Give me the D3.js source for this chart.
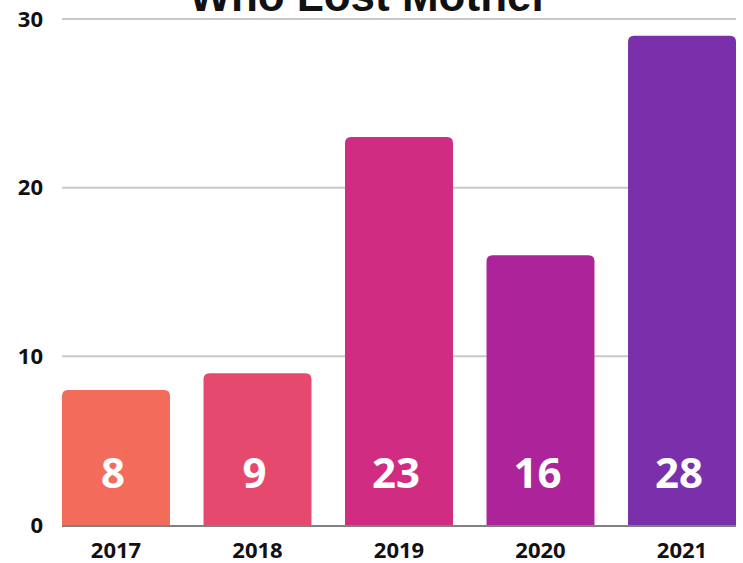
<!DOCTYPE html>
<html>
<head>
<meta charset="utf-8">
<script src="https://cdn.jsdelivr.net/npm/d3@7"></script>
<style>
  html, body { margin: 0; padding: 0; background: #fff; }
  svg { display: block; }
</style>
</head>
<body>
<div id="chart"></div>
<script>
(() => {

const years = ["2017", "2018", "2019", "2020", "2021"]
const heights = [8, 9, 23, 16, 29]       // bar height as drawn
const labels = ["8", "9", "23", "16", "28"] // number printed on the bar
const colors = ["#f26b5b", "#e6496e", "#d02d82", "#ad239a", "#7930aa"]
const yTicks = [0, 10, 20, 30]

const width = 743, height = 563
const left = 62, right = 736, top = 19, bottom = 525

let svg = d3.select("#chart")
            .append("svg")
            .attr("width", width)
            .attr("height", height)

let x = d3.scaleBand()
          .domain(years)
          .range([left, right])
          .paddingInner(0.237)
          .paddingOuter(0)

let y = d3.scaleLinear()
          .domain([0, 30])
          .range([bottom, top])

// grid
svg.append("g")
   .selectAll("line")
   .data(yTicks.filter(t => t > 0)).enter()
   .append("line")
   .attr("x1", left).attr("x2", right)
   .attr("y1", d => y(d)).attr("y2", d => y(d))
   .attr("stroke", "#c8c8c8")
   .attr("stroke-width", 2)

// title, mostly above the frame like in the original
svg.append("text")
   .attr("x", 369)
   .attr("y", 11)
   .attr("text-anchor", "middle")
   .attr("font-family", "'Liberation Sans', Arial, sans-serif")
   .attr("font-weight", "bold")
   .attr("font-size", 44)
   .attr("fill", "#111")
   .text("Who Lost Mother")

// bars with rounded tops
let r = 6
let barPath = (d, i) => {
    let x0 = x(years[i]), x1 = x0 + x.bandwidth()
    let y0 = y(0), y1 = y(d)
    return `M${x0},${y0}V${y1 + r}Q${x0},${y1} ${x0 + r},${y1}H${x1 - r}Q${x1},${y1} ${x1},${y1 + r}V${y0}Z`
}

svg.append("g")
   .selectAll("path")
   .data(heights).enter()
   .append("path")
   .attr("d", barPath)
   .attr("fill", (d, i) => colors[i])

svg.append("g")
   .selectAll("text")
   .data(labels).enter()
   .append("text")
   .attr("x", (d, i) => x(years[i]) + x.bandwidth() / 2 - 3)
   .attr("y", 488)
   .attr("text-anchor", "middle")
   .attr("font-family", "'Open Sans', sans-serif")
   .attr("font-weight", 700)
   .attr("font-size", 42)
   .attr("fill", "#fff")
   .text(d => d)

// baseline
svg.append("line")
   .attr("x1", left).attr("x2", right)
   .attr("y1", y(0) + 1).attr("y2", y(0) + 1)
   .attr("stroke", "#808080")
   .attr("stroke-width", 2)

// axes
let xAxis = svg.append("g")
               .attr("transform", `translate(0,${bottom})`)
               .call(d3.axisBottom(x).tickSize(0).tickPadding(17))
xAxis.select(".domain").remove()
xAxis.selectAll("text")
     .attr("font-family", "'Open Sans', sans-serif")
     .attr("font-weight", 700)
     .attr("font-size", 22)
     .attr("fill", "#111")

let yAxis = svg.append("g")
               .attr("transform", `translate(${left},0)`)
               .call(d3.axisLeft(y).tickValues(yTicks).tickSize(0).tickPadding(19))
yAxis.select(".domain").remove()
yAxis.selectAll("text")
     .attr("font-family", "'Open Sans', sans-serif")
     .attr("font-weight", 700)
     .attr("font-size", 22)
     .attr("fill", "#111")

})();
</script>
</body>
</html>
